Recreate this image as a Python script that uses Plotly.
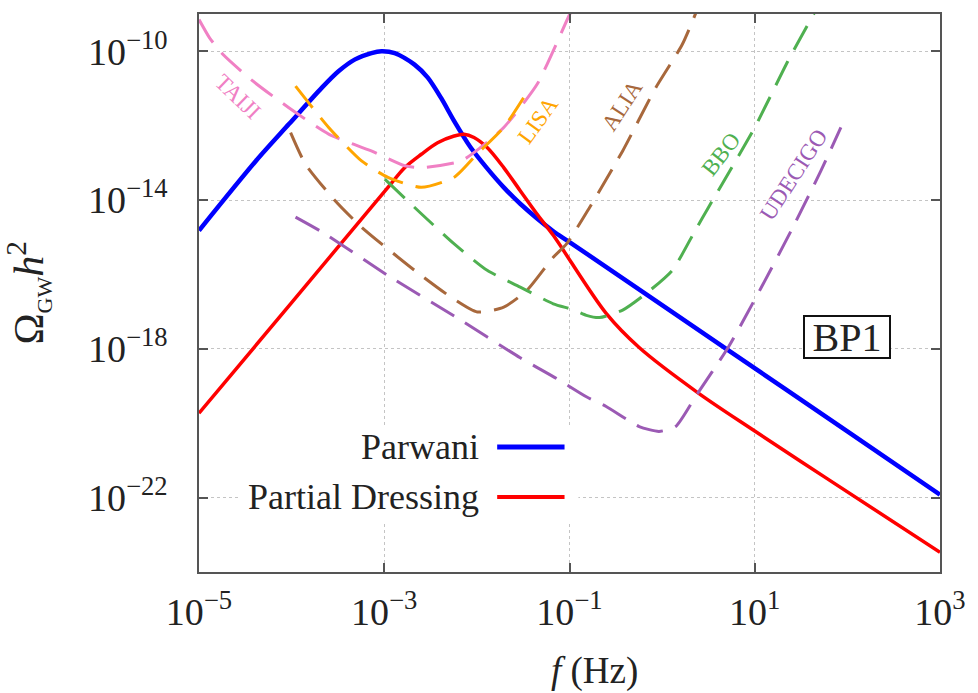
import numpy as np
import plotly.graph_objects as go

# ---- spectra (log10 f [Hz], log10 Omega_GW h^2) ----
parwani_lf = [-5.0, -4.386, -4.029, -3.673, -3.494, -3.315, -3.138, -3.03, -2.887, -2.673,
              -2.53, -2.388, -2.245, -2.067, -1.889, -1.71, -1.532, -1.175, -1.0, 0.68, 2.0, 3.0]
parwani_lo = [-14.82, -12.95, -11.96, -10.98, -10.54, -10.22, -10.05, -10.0, -10.05, -10.36,
              -10.71, -11.25, -11.88, -12.59, -13.15, -13.66, -14.10, -14.84, -15.13, -17.98, -20.22, -21.92]

dressing_lf = [-5.0, -4.0, -2.96, -2.78, -2.60, -2.424, -2.245, -2.138, -2.031, -1.889, -1.71,
               -1.532, -1.353, -1.175, -0.604, -0.251, 0.391, 1.0, 1.781, 3.0]
dressing_lo = [-19.73, -16.76, -13.66, -13.13, -12.77, -12.46, -12.28, -12.23, -12.32, -12.59, -13.13,
               -13.75, -14.37, -14.95, -17.05, -17.96, -19.19, -20.21, -21.49, -23.47]

# ---- detector sensitivity curves ----
taiji_lf = [-5.0, -4.886, -4.74, -4.42, -4.03, -3.60, -3.14, -2.78, -2.60, -2.17, -1.96,
            -1.71, -1.35, -1.0, -0.95]
taiji_lo = [-9.15, -9.64, -10.09, -10.80, -11.52, -12.23, -12.68, -13.08, -13.13, -12.95, -12.59,
            -12.05, -10.89, -9.02, -8.8]

lisa_lf = [-3.958, -3.60, -3.245, -2.96, -2.60, -2.245, -2.0, -1.71, -1.44]
lisa_lo = [-10.94, -12.05, -12.95, -13.39, -13.66, -13.39, -12.77, -12.05, -11.03]

alia_lf = [-4.011, -3.85, -3.53, -3.245, -2.673, -2.28, -1.995, -1.71, -1.46, -1.175,
           -1.032, -0.783, -0.426, -0.069, 0.217, 0.40]
alia_lo = [-12.19, -13.04, -14.02, -14.73, -15.89, -16.61, -17.01, -16.88, -16.43, -15.54,
           -15.18, -14.20, -12.68, -10.98, -9.82, -8.75]

bbo_lf = [-2.994, -2.60, -2.245, -1.889, -1.532, -1.175, -0.96, -0.818, -0.676, -0.426, -0.176,
          0.11, 0.359, 0.50, 1.0, 1.357, 1.643, 1.75]
bbo_lo = [-13.44, -14.37, -15.18, -15.89, -16.34, -16.79, -16.95, -17.10, -17.16, -16.96, -16.52,
          -15.89, -14.81, -14.20, -12.05, -10.27, -8.97, -8.5]

udecigo_lf = [-3.958, -3.673, -2.96, -2.245, -1.532, -1.139, -0.818, -0.604, -0.248, -0.034,
              0.145, 0.359, 0.716, 1.073, 1.394, 1.715, 1.93]
udecigo_lo = [-14.46, -14.86, -16.03, -17.12, -18.24, -18.80, -19.29, -19.55, -20.09, -20.22,
              -20.09, -19.29, -17.95, -16.34, -14.82, -13.21, -12.05]

# ---- axis ticks ----
x_tickvals = [1e-5, 1e-3, 1e-1, 1e1, 1e3]
x_ticktext = ["10<sup>−5</sup>", "10<sup>−3</sup>", "10<sup>−1</sup>", "10<sup>1</sup>", "10<sup>3</sup>"]
y_tickvals = [1e-10, 1e-14, 1e-18, 1e-22]
y_ticktext = ["10<sup>−10</sup>", "10<sup>−14</sup>", "10<sup>−18</sup>", "10<sup>−22</sup>"]

SERIF = "Liberation Serif"
TXT = "#222222"
DASH = "27px,13px"


def pw(v):
    return np.power(10.0, np.asarray(v, dtype=float))


fig = go.Figure()

# solid model spectra
fig.add_trace(go.Scatter(x=pw(parwani_lf), y=pw(parwani_lo), mode="lines", name="Parwani",
                         line=dict(color="#0000ff", width=4.5, shape="spline", smoothing=0.8)))
fig.add_trace(go.Scatter(x=pw(dressing_lf), y=pw(dressing_lo), mode="lines", name="Partial Dressing",
                         line=dict(color="#ff0000", width=3.5, shape="spline", smoothing=0.9)))

# dashed detector curves
detectors = [
    ("TAIJI", taiji_lf, taiji_lo, "#f080c4"),
    ("LISA", lisa_lf, lisa_lo, "#ffa500"),
    ("ALIA", alia_lf, alia_lo, "#a8683c"),
    ("BBO", bbo_lf, bbo_lo, "#4fb050"),
    ("UDECIGO", udecigo_lf, udecigo_lo, "#9b5ab4"),
]
for name, lf, lo, col in detectors:
    fig.add_trace(go.Scatter(x=pw(lf), y=pw(lo), mode="lines", name=name, showlegend=False,
                             line=dict(color=col, width=3, dash=DASH, shape="spline", smoothing=0.6)))

# detector labels (log10 positions, rotation in degrees)
label_pos = {
    "TAIJI": (-4.586, -11.23, 44),
    "LISA": (-1.343, -11.85, -54),
    "ALIA": (-0.428, -11.47, -57),
    "BBO": (0.637, -12.79, -52),
    "UDECIGO": (1.424, -13.32, -57),
}
for name, lf, lo, col in detectors:
    lx, ly, ang = label_pos[name]
    fig.add_annotation(x=lx, y=ly, xref="x", yref="y", text=name, showarrow=False,
                       xanchor="center", yanchor="middle",
                       textangle=ang, font=dict(family=SERIF, size=23, color=col))

# benchmark tag
fig.add_annotation(x=2.0, y=-17.69, xref="x", yref="y", text="BP1", showarrow=False,
                   xanchor="center", yanchor="middle",
                   font=dict(family=SERIF, size=40, color=TXT), bgcolor="white",
                   bordercolor="#111111", borderwidth=2, borderpad=1, width=82, height=38)

# legend block: text followed by a line sample, on an opaque background
fig.add_shape(type="rect", xref="paper", yref="paper", x0=0.055, x1=0.512, y0=0.089, y1=0.2625,
              fillcolor="white", line=dict(width=0), layer="above")
legend_rows = [("Parwani", "#0000ff", 5, 0.2238), ("Partial Dressing", "#ff0000", 4, 0.1345)]
for text, col, w, yp in legend_rows:
    fig.add_annotation(x=0.381, y=yp, xref="paper", yref="paper", text=text, showarrow=False,
                       xanchor="right", yanchor="middle", font=dict(family=SERIF, size=36, color=TXT))
    fig.add_shape(type="line", xref="paper", yref="paper", x0=0.4024, x1=0.4933, y0=yp, y1=yp,
                  line=dict(color=col, width=w), layer="above")

# axis titles
fig.add_annotation(x=(598 - 199) / 748, y=-(671 - 572) / 560, xref="paper", yref="paper",
                   text="<i>f</i> (Hz)", showarrow=False, xanchor="center", yanchor="middle",
                   font=dict(family=SERIF, size=37, color=TXT))
fig.add_annotation(x=-(199 - 26) / 748, y=0.5, xref="paper", yref="paper",
                   text="Ω<sub><span style='font-size:22px'>GW</span></sub><i>h</i><sup>2</sup>",
                   showarrow=False, textangle=-90, xanchor="center", yanchor="middle",
                   font=dict(family=SERIF, size=42, color=TXT))

axis_common = dict(
    showline=True, linecolor="#555555", linewidth=1.5, mirror="ticks",
    ticks="inside", ticklen=9, tickwidth=1.5, tickcolor="#555555",
    showgrid=True, gridcolor="#c4c4c4", gridwidth=1, griddash="dot",
    zeroline=False, tickfont=dict(family=SERIF, size=38, color=TXT),
)

fig.update_xaxes(type="log", range=[-5, 3], tickvals=x_tickvals, ticktext=x_ticktext,
                 ticklabelstandoff=6, **axis_common)
fig.update_yaxes(type="log", range=[-24, -9], tickvals=y_tickvals, ticktext=y_ticktext,
                 ticklabelstandoff=22, **axis_common)

fig.update_layout(
    width=978, height=693,
    margin=dict(l=199, r=31, t=12, b=121),
    plot_bgcolor="white", paper_bgcolor="white",
    showlegend=False,
)

fig.write_html("out.html")
